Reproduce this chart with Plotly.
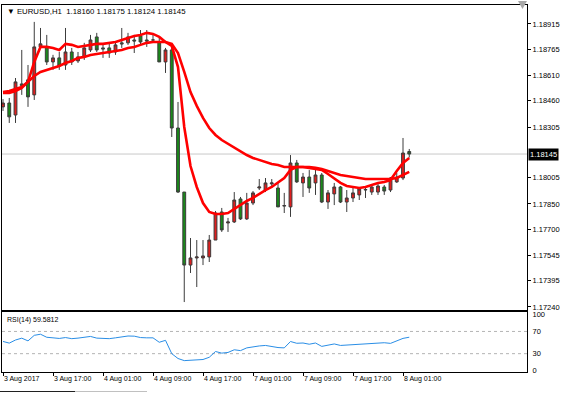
import plotly.graph_objects as go

# ---- data (EURUSD H1) ----
tick_labels = ["3 Aug 2017", "3 Aug 17:00", "4 Aug 01:00", "4 Aug 09:00", "4 Aug 17:00",
               "7 Aug 01:00", "7 Aug 09:00", "7 Aug 17:00", "8 Aug 01:00"]
tick_bars = [0, 8, 16, 24, 32, 40, 48, 56, 64]

opens = [1.18424, 1.18447, 1.18376, 1.18560, 1.18584, 1.18495, 1.18779, 1.18779, 1.18690, 1.18714,
         1.18672, 1.18749, 1.18696, 1.18720, 1.18761, 1.18838, 1.18773, 1.18773, 1.18749, 1.18803,
         1.18803, 1.18820, 1.18844, 1.18820, 1.18820, 1.18808, 1.18690, 1.18761, 1.18299, 1.17920,
         1.17488, 1.17530, 1.17530, 1.17536, 1.17636, 1.17802, 1.17737, 1.17743, 1.17879, 1.17761,
         1.17855, 1.17944, 1.17932, 1.17968, 1.17944, 1.17837, 1.17832, 1.18092, 1.17974, 1.18009,
         1.17974, 1.18021, 1.17861, 1.17909, 1.17950, 1.17861, 1.17885, 1.17903, 1.17932, 1.17920,
         1.17920, 1.17950, 1.17932, 1.17980, 1.18003, 1.18160]
highs = [1.18470, 1.18477, 1.18595, 1.18761, 1.18672, 1.18927, 1.18891, 1.18850, 1.18732, 1.18749,
         1.18891, 1.18773, 1.18749, 1.18803, 1.18850, 1.18862, 1.18791, 1.18803, 1.18808, 1.18891,
         1.18862, 1.18850, 1.18879, 1.18879, 1.18850, 1.18832, 1.18773, 1.18773, 1.18453, 1.17920,
         1.17648, 1.17636, 1.17636, 1.17666, 1.17808, 1.17826, 1.17767, 1.17920, 1.17891, 1.17915,
         1.17926, 1.17997, 1.18003, 1.17997, 1.17974, 1.17915, 1.18139, 1.18110, 1.18033, 1.18050,
         1.18062, 1.18033, 1.17932, 1.17974, 1.17956, 1.17932, 1.17944, 1.17950, 1.17944, 1.17962,
         1.17974, 1.17962, 1.18009, 1.18033, 1.18240, 1.18175]
lows = [1.18400, 1.18329, 1.18329, 1.18495, 1.18424, 1.18465, 1.18773, 1.18672, 1.18643, 1.18643,
        1.18643, 1.18672, 1.18684, 1.18702, 1.18749, 1.18749, 1.18714, 1.18714, 1.18732, 1.18773,
        1.18791, 1.18743, 1.18791, 1.18779, 1.18803, 1.18690, 1.18625, 1.18246, 1.17915, 1.17269,
        1.17441, 1.17358, 1.17488, 1.17506, 1.17636, 1.17684, 1.17684, 1.17737, 1.17755, 1.17755,
        1.17843, 1.17932, 1.17920, 1.17944, 1.17832, 1.17796, 1.17773, 1.17974, 1.17891, 1.17915,
        1.17903, 1.17855, 1.17820, 1.17843, 1.17855, 1.17802, 1.17861, 1.17873, 1.17885, 1.17903,
        1.17903, 1.17903, 1.17920, 1.17974, 1.17991, 1.18124]
closes = [1.18447, 1.18365, 1.18572, 1.18550, 1.18483, 1.18779, 1.18797, 1.18690, 1.18714, 1.18666,
          1.18749, 1.18690, 1.18720, 1.18773, 1.18820, 1.18761, 1.18767, 1.18743, 1.18791, 1.18797,
          1.18838, 1.18814, 1.18808, 1.18814, 1.18820, 1.18690, 1.18761, 1.18299, 1.17920, 1.17488,
          1.17530, 1.17536, 1.17542, 1.17636, 1.17796, 1.17696, 1.17743, 1.17873, 1.17761, 1.17855,
          1.17915, 1.17950, 1.17974, 1.17974, 1.17832, 1.17840, 1.18092, 1.17980, 1.18009, 1.17944,
          1.18021, 1.17861, 1.17915, 1.17950, 1.17861, 1.17885, 1.17915, 1.17938, 1.17935, 1.17950,
          1.17956, 1.17926, 1.18003, 1.18009, 1.18151, 1.18145]

ma_fast = [1.18507, 1.18507, 1.18518, 1.18536, 1.18572, 1.18690, 1.18779, 1.18779, 1.18773, 1.18761,
           1.18797, 1.18791, 1.18779, 1.18785, 1.18791, 1.18797, 1.18797, 1.18803, 1.18808, 1.18820,
           1.18832, 1.18844, 1.18850, 1.18862, 1.18856, 1.18838, 1.18808, 1.18785, 1.18660, 1.18305,
           1.18074, 1.17950, 1.17855, 1.17802, 1.17790, 1.17790, 1.17796, 1.17820, 1.17843, 1.17867,
           1.17885, 1.17909, 1.17932, 1.17950, 1.17974, 1.18003, 1.18051, 1.18068, 1.18068, 1.18063,
           1.18057, 1.18051, 1.18027, 1.18003, 1.17974, 1.17956, 1.17950, 1.17944, 1.17950, 1.17962,
           1.17974, 1.17980, 1.17991, 1.18045, 1.18092, 1.18122]
ma_slow = [1.18512, 1.18518, 1.18530, 1.18542, 1.18572, 1.18607, 1.18631, 1.18643, 1.18655, 1.18666,
           1.18684, 1.18696, 1.18714, 1.18720, 1.18731, 1.18737, 1.18743, 1.18749, 1.18755, 1.18761,
           1.18773, 1.18779, 1.18791, 1.18803, 1.18808, 1.18808, 1.18808, 1.18797, 1.18743, 1.18631,
           1.18512, 1.18430, 1.18359, 1.18299, 1.18258, 1.18228, 1.18205, 1.18181, 1.18163, 1.18139,
           1.18122, 1.18110, 1.18098, 1.18086, 1.18080, 1.18068, 1.18068, 1.18068, 1.18068, 1.18068,
           1.18063, 1.18057, 1.18045, 1.18033, 1.18021, 1.18015, 1.18009, 1.18003, 1.17997, 1.17997,
           1.17997, 1.17997, 1.17997, 1.18003, 1.18021, 1.18039]

rsi = [52.0, 49.0, 54.6, 57.9, 53.0, 63.0, 65.0, 59.5, 58.5, 57.4,
       59.0, 57.0, 58.0, 59.0, 61.0, 58.0, 57.5, 57.0, 58.5, 60.0,
       61.8, 61.5, 59.0, 58.5, 58.5, 50.5, 54.0, 30.0, 21.3, 17.5,
       18.3, 19.0, 19.5, 23.5, 33.9, 31.0, 32.2, 37.0, 35.5, 40.4,
       42.5, 43.9, 44.8, 42.5, 41.0, 40.4, 51.9, 48.7, 49.2, 47.0,
       49.2, 43.1, 45.9, 47.5, 44.8, 45.5, 46.4, 47.8, 48.7, 48.7,
       49.2, 49.7, 48.5, 53.5, 57.5, 59.58]

price_ticks = [1.18915, 1.18765, 1.18610, 1.18460, 1.18305, 1.18005, 1.17850,
               1.17700, 1.17545, 1.17395, 1.17240]
rsi_ticks = [100, 70, 30, 0]
rsi_levels = [70, 30]
last_price = 1.18145
title_text = "\u25bc EURUSD,H1  1.18160 1.18175 1.18124 1.18145"
rsi_text = "RSI(14) 59.5812"

bars = list(range(len(opens)))

# ---- styling ----
FONT = "Liberation Sans"
RED = "#e01e1e"
GREEN = "#1a8a1a"
WICK = "#3c3c3c"

W, H = 576, 393
ML, MR, MT, MB = 2, 49, 5, 21
plot_h = H - MT - MB
plot_w = W - ML - MR
main_bottom = (H - MB - 310) / plot_h
rsi_top = (H - MB - 312) / plot_h


def px_x(px):
    return (px - ML) / plot_w


def px_y(py):
    return 1 - (py - MT) / plot_h


fig = go.Figure()
fig.add_trace(go.Candlestick(
    x=bars, open=opens, high=highs, low=lows, close=closes,
    increasing=dict(fillcolor=RED, line=dict(color=WICK, width=1)),
    decreasing=dict(fillcolor=GREEN, line=dict(color=WICK, width=1)),
    whiskerwidth=0, xaxis="x", yaxis="y", showlegend=False))
fig.add_trace(go.Scatter(x=bars, y=ma_slow, mode="lines",
                         line=dict(color="#ff0000", width=2.6), xaxis="x", yaxis="y",
                         showlegend=False))
fig.add_trace(go.Scatter(x=bars, y=ma_fast, mode="lines",
                         line=dict(color="#ff0000", width=2.6), xaxis="x", yaxis="y",
                         showlegend=False))
fig.add_trace(go.Scatter(x=bars, y=rsi, mode="lines",
                         line=dict(color="#2a8ee6", width=1), xaxis="x2", yaxis="y2",
                         showlegend=False))

x_per_px = 1 / 6.25
x_range = [-1 * x_per_px, -1 * x_per_px + plot_w * x_per_px]

axis_common = dict(showgrid=False, zeroline=False, showline=True, mirror=True,
                   linecolor="black", linewidth=1)

fig.update_layout(
    width=W, height=H,
    margin=dict(l=ML, r=MR, t=MT, b=MB),
    paper_bgcolor="white", plot_bgcolor="white",
    font=dict(family=FONT, size=7.5, color="black"),
    boxgap=0.35,
    xaxis=dict(domain=[0, 1], anchor="y", range=x_range, showticklabels=False,
               ticks="", rangeslider=dict(visible=False), **axis_common),
    yaxis=dict(domain=[main_bottom, 1], anchor="x", side="right",
               range=[1.17222, 1.19027], tickvals=price_ticks,
               ticktext=[f"{v:.5f}" for v in price_ticks],
               ticks="outside", ticklen=3, tickcolor="black",
               tickfont=dict(size=7.5, family=FONT), **axis_common),
    xaxis2=dict(domain=[0, 1], anchor="y2", matches="x", range=x_range,
                tickvals=tick_bars, ticktext=tick_labels,
                ticks="outside", ticklen=3, tickcolor="black",
                ticklabelposition="outside right",
                tickfont=dict(size=7, family=FONT), **axis_common),
    yaxis2=dict(domain=[0, rsi_top], anchor="x2", side="right", range=[-3, 105],
                tickvals=rsi_ticks, ticktext=[str(v) for v in rsi_ticks],
                ticks="outside", ticklen=3, tickcolor="white",
                tickfont=dict(size=7.5, family=FONT), **axis_common),
)

shapes = []
for lv in rsi_levels:
    shapes.append(dict(type="line", xref="paper", x0=0, x1=1, yref="y2", y0=lv, y1=lv,
                       line=dict(color="#b4b4b4", width=1, dash="dot"), layer="below"))
shapes.append(dict(type="line", xref="paper", x0=0, x1=1, yref="y", y0=last_price, y1=last_price,
                   line=dict(color="#c8c8c8", width=1), layer="below"))
# bottom tab strip
shapes.append(dict(type="line", xref="paper", yref="paper",
                   x0=px_x(0), x1=px_x(75), y0=px_y(391.5), y1=px_y(391.5),
                   line=dict(color="#202020", width=1)))
shapes.append(dict(type="line", xref="paper", yref="paper",
                   x0=px_x(75), x1=px_x(147), y0=px_y(391.5), y1=px_y(391.5),
                   line=dict(color="#c0c0c0", width=1)))
# chart-shift marker at top right
shapes.append(dict(type="path", xref="paper", yref="paper",
                   path=(f"M {px_x(518)} {px_y(1)} L {px_x(527)} {px_y(1)} "
                         f"L {px_x(522.5)} {px_y(9)} Z"),
                   fillcolor="#a8a8a8", line=dict(width=0)))
fig.update_layout(shapes=shapes)

annotations = [
    dict(text=title_text, xref="paper", yref="paper",
         x=px_x(5), y=px_y(12),
         xanchor="left", yanchor="middle", showarrow=False,
         font=dict(size=7.8, family=FONT, color="black")),
    dict(text=rsi_text, xref="paper", yref="paper",
         x=px_x(5), y=px_y(320),
         xanchor="left", yanchor="middle", showarrow=False,
         font=dict(size=7, family=FONT, color="black")),
    dict(text=f"{last_price:.5f}", xref="paper", yref="y", x=1, y=last_price,
         xanchor="left", yanchor="middle", xshift=1, showarrow=False,
         bgcolor="black", borderpad=1,
         font=dict(size=7.5, family=FONT, color="white")),
]
fig.update_layout(annotations=annotations)

fig.write_html("out.html", config={"displayModeBar": False},
               post_script="document.body.style.margin='0';document.body.style.overflow='hidden';")
